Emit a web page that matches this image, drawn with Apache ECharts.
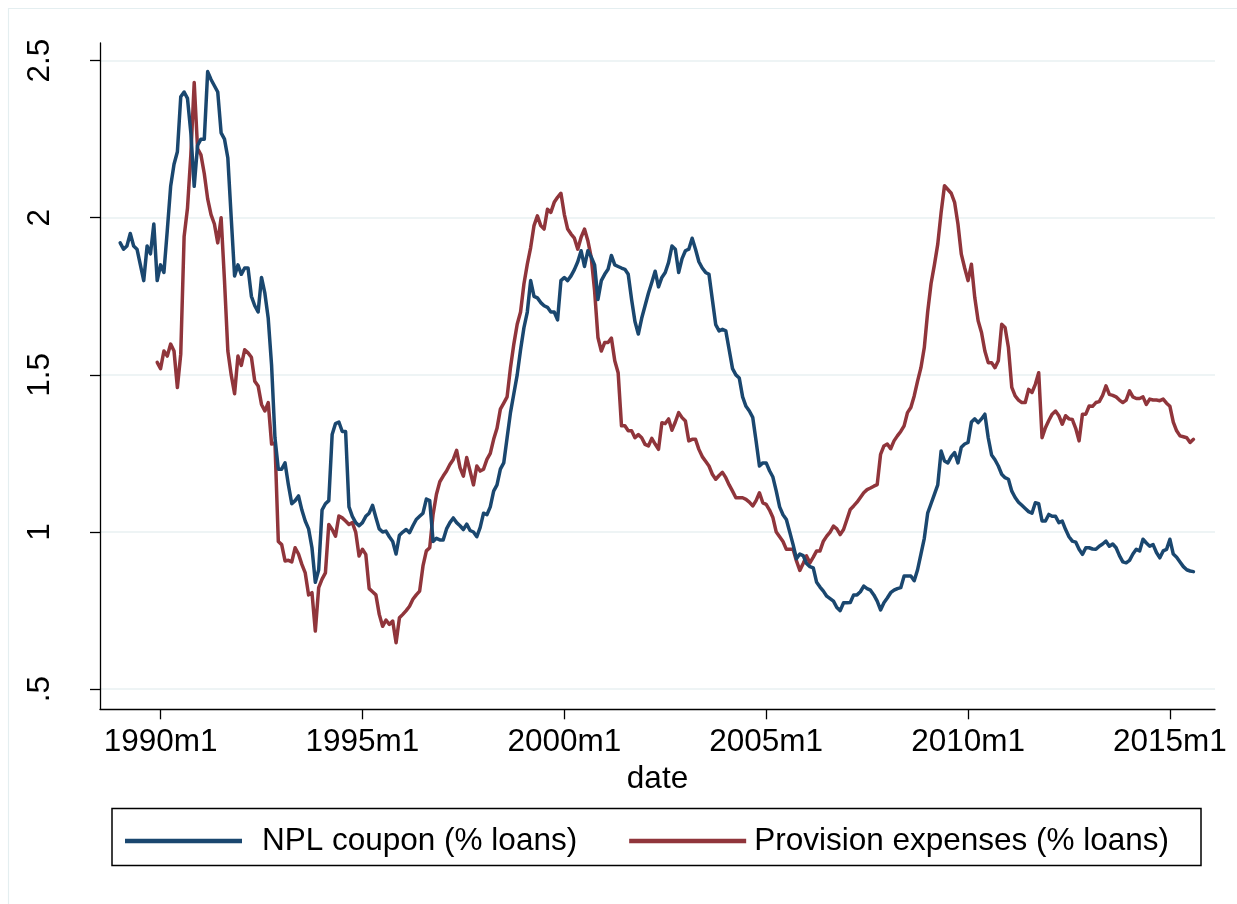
<!DOCTYPE html>
<html>
<head>
<meta charset="utf-8">
<title>NPL coupon and provision expenses</title>
<script src="https://cdn.jsdelivr.net/npm/echarts@6/dist/echarts.min.js"></script>
<style>
  html, body { margin: 0; padding: 0; background: #ffffff; }
  #chart { width: 1237px; height: 904px; }
</style>
</head>
<body>
<div id="chart"></div>
<script>
// Months are counted from 1990m1 (= 0).
const nplStartMonth = -12;       // 1989m1
const provisionStartMonth = -1;  // 1989m12

// NPL coupon (% loans), monthly
const nplCoupon = [
  1.92, 1.90, 1.91, 1.95, 1.91, 1.90, 1.85, 1.80, 1.91, 1.885, 1.98, 1.80,
  1.85, 1.826, 1.96, 2.10, 2.17, 2.21, 2.385, 2.40, 2.38, 2.27, 2.10, 2.23,
  2.25, 2.25, 2.465, 2.44, 2.42, 2.40, 2.27, 2.25, 2.19, 2.00, 1.815, 1.85,
  1.82, 1.84, 1.84, 1.75, 1.72, 1.70, 1.81, 1.76, 1.68, 1.53, 1.30, 1.20,
  1.20, 1.22, 1.15, 1.09, 1.10, 1.115, 1.07, 1.035, 1.01, 0.95, 0.84, 0.88,
  1.07, 1.09, 1.10, 1.31, 1.345, 1.35, 1.32, 1.32, 1.08, 1.05, 1.03, 1.02,
  1.03, 1.05, 1.06, 1.085, 1.046, 1.01, 1.00, 1.003, 0.985, 0.97, 0.93, 0.99,
  1.00, 1.008, 0.998, 1.02, 1.04, 1.05, 1.06, 1.105, 1.10, 0.97, 0.98, 0.975,
  0.975, 1.01, 1.03, 1.045, 1.03, 1.02, 1.008, 1.025, 1.005, 1.00, 0.985, 1.015,
  1.06, 1.055, 1.08, 1.13, 1.15, 1.20, 1.22, 1.30, 1.38, 1.44, 1.50, 1.58,
  1.65, 1.70, 1.80, 1.75, 1.745, 1.73, 1.72, 1.715, 1.70, 1.70, 1.675, 1.80,
  1.81, 1.80, 1.815, 1.835, 1.86, 1.895, 1.845, 1.895, 1.875, 1.85, 1.74, 1.80,
  1.82, 1.836, 1.88, 1.85, 1.845, 1.84, 1.836, 1.82, 1.74, 1.67, 1.63, 1.68,
  1.72, 1.76, 1.794, 1.83, 1.78, 1.81, 1.826, 1.858, 1.91, 1.90, 1.826, 1.87,
  1.895, 1.90, 1.935, 1.90, 1.86, 1.84, 1.826, 1.82, 1.74, 1.66, 1.64, 1.645,
  1.64, 1.58, 1.52, 1.50, 1.49, 1.43, 1.40, 1.385, 1.365, 1.29, 1.21, 1.22,
  1.22, 1.195, 1.175, 1.13, 1.08, 1.055, 1.04, 1.00, 0.96, 0.915, 0.93, 0.925,
  0.90, 0.89, 0.886, 0.84, 0.825, 0.812, 0.796, 0.788, 0.78, 0.76, 0.75, 0.775,
  0.775, 0.776, 0.80, 0.80, 0.81, 0.828, 0.82, 0.815, 0.80, 0.78, 0.752, 0.775,
  0.79, 0.807, 0.815, 0.82, 0.823, 0.86, 0.86, 0.86, 0.845, 0.88, 0.93, 0.98,
  1.06, 1.09, 1.12, 1.15, 1.258, 1.226, 1.22, 1.24, 1.253, 1.22, 1.27, 1.28,
  1.285, 1.35, 1.36, 1.348, 1.36, 1.375, 1.30, 1.245, 1.23, 1.21, 1.184, 1.173,
  1.168, 1.13, 1.11, 1.095, 1.085, 1.075, 1.065, 1.06, 1.093, 1.09, 1.035, 1.035,
  1.056, 1.05, 1.05, 1.03, 1.035, 1.008, 0.985, 0.971, 0.968, 0.945, 0.929, 0.95,
  0.95, 0.946, 0.945, 0.955, 0.962, 0.971, 0.955, 0.962, 0.95, 0.925, 0.905, 0.902,
  0.91, 0.93, 0.945, 0.94, 0.977, 0.965, 0.955, 0.96, 0.935, 0.918, 0.94, 0.945,
  0.977, 0.93, 0.92, 0.905, 0.89, 0.88, 0.876, 0.874
];

// Provision expenses (% loans), monthly
const provisionExpenses = [
  1.54, 1.52, 1.576, 1.56, 1.598, 1.576, 1.46, 1.566, 1.94, 2.03, 2.20, 2.43,
  2.22, 2.20, 2.14, 2.06, 2.01, 1.98, 1.92, 2.00, 1.80, 1.576, 1.50, 1.44,
  1.56, 1.53, 1.58, 1.57, 1.556, 1.48, 1.465, 1.406, 1.385, 1.412, 1.28, 1.284,
  0.97, 0.96, 0.908, 0.91, 0.905, 0.95, 0.93, 0.897, 0.87, 0.80, 0.807, 0.685,
  0.823, 0.85, 0.87, 1.024, 1.008, 0.987, 1.051, 1.045, 1.035, 1.024, 1.03, 1.00,
  0.924, 0.945, 0.929, 0.82, 0.81, 0.80, 0.738, 0.70, 0.72, 0.706, 0.717, 0.648,
  0.727, 0.738, 0.75, 0.764, 0.786, 0.80, 0.812, 0.892, 0.94, 0.95, 1.056, 1.12,
  1.16, 1.178, 1.194, 1.215, 1.231, 1.26, 1.205, 1.178, 1.237, 1.194, 1.15, 1.21,
  1.194, 1.20, 1.231, 1.25, 1.295, 1.33, 1.391, 1.41, 1.43, 1.523, 1.598, 1.661,
  1.70, 1.789, 1.852, 1.905, 1.975, 2.006, 1.975, 1.964, 2.027, 2.017, 2.049, 2.065,
  2.078, 2.011, 1.964, 1.948, 1.935, 1.90, 1.938, 1.964, 1.927, 1.874, 1.768, 1.619,
  1.576, 1.603, 1.603, 1.617, 1.545, 1.507, 1.338, 1.338, 1.322, 1.322, 1.30, 1.31,
  1.30, 1.279, 1.274, 1.298, 1.28, 1.263, 1.348, 1.345, 1.36, 1.324, 1.35, 1.38,
  1.364, 1.353, 1.29, 1.295, 1.295, 1.263, 1.24, 1.225, 1.21, 1.184, 1.168, 1.18,
  1.19, 1.173, 1.15, 1.13, 1.109, 1.109, 1.109, 1.104, 1.095, 1.083, 1.10, 1.125,
  1.093, 1.088, 1.07, 1.046, 1.00, 0.985, 0.97, 0.945, 0.945, 0.945, 0.908, 0.878,
  0.90, 0.924, 0.902, 0.92, 0.94, 0.94, 0.971, 0.987, 1.00, 1.019, 1.01, 0.992,
  1.008, 1.04, 1.072, 1.083, 1.095, 1.11, 1.125, 1.135, 1.14, 1.146, 1.151, 1.247,
  1.274, 1.28, 1.265, 1.29, 1.306, 1.32, 1.338, 1.38, 1.396, 1.433, 1.48, 1.523,
  1.587, 1.70, 1.79, 1.85, 1.916, 2.017, 2.102, 2.09, 2.078, 2.049, 1.98, 1.884,
  1.84, 1.80, 1.852, 1.746, 1.672, 1.635, 1.576, 1.539, 1.539, 1.523, 1.545, 1.661,
  1.651, 1.587, 1.46, 1.433, 1.42, 1.412, 1.412, 1.454, 1.444, 1.47, 1.507, 1.30,
  1.332, 1.355, 1.375, 1.385, 1.37, 1.343, 1.37, 1.36, 1.358, 1.33, 1.29, 1.375,
  1.375, 1.401, 1.40, 1.412, 1.415, 1.435, 1.465, 1.438, 1.435, 1.43, 1.42, 1.412,
  1.42, 1.449, 1.43, 1.425, 1.425, 1.43, 1.406, 1.423, 1.42, 1.42, 1.418, 1.423,
  1.41, 1.40, 1.35, 1.322, 1.306, 1.303, 1.30, 1.285, 1.295
];

// Axis ticks
const xTickMonths = [0, 60, 120, 180, 240, 300];
const xTickLabels = ['1990m1', '1995m1', '2000m1', '2005m1', '2010m1', '2015m1'];
const yTickValues = [0.5, 1, 1.5, 2, 2.5];
const yTickLabels = ['.5', '1', '1.5', '2', '2.5'];

const seriesNames = ['NPL coupon (% loans)', 'Provision expenses (% loans)'];

const FONT = '"Liberation Sans", Arial, Helvetica, sans-serif';
const BLUE = '#1a476f';
const RED = '#90353b';

function toPairs(values, start) {
  return values.map((v, i) => [start + i, v]);
}

const chart = echarts.init(document.getElementById('chart'), null, { renderer: 'canvas' });

chart.setOption({
  animation: false,
  backgroundColor: '#ffffff',
  textStyle: { fontFamily: FONT, color: '#000' },
  grid: { left: 100, right: 22, top: 43, bottom: 194.7, containLabel: false },
  xAxis: {
    type: 'value',
    min: -18,
    max: 313.4,
    name: 'date',
    nameLocation: 'middle',
    nameGap: 50,
    nameTextStyle: { fontFamily: FONT, fontSize: 31.5, color: '#000' },
    axisLine: { show: true, onZero: false, lineStyle: { color: '#000', width: 1.3 } },
    axisTick: { show: true, length: 10, customValues: xTickMonths, lineStyle: { color: '#000', width: 1.3 } },
    axisLabel: {
      customValues: xTickMonths,
      margin: 17,
      fontFamily: FONT,
      fontSize: 31.5,
      color: '#000',
      formatter: v => xTickLabels[xTickMonths.indexOf(v)] || ''
    },
    splitLine: { show: false }
  },
  yAxis: {
    type: 'value',
    min: 0.436,
    max: 2.556,
    axisLine: { show: true, onZero: false, lineStyle: { color: '#000', width: 1.3 } },
    axisTick: { show: true, length: 10, customValues: yTickValues, lineStyle: { color: '#000', width: 1.3 } },
    axisLabel: {
      customValues: yTickValues,
      rotate: 90,
      margin: 44,
      fontFamily: FONT,
      fontSize: 31.5,
      color: '#000',
      formatter: v => yTickLabels[yTickValues.indexOf(v)] || ''
    },
    splitLine: { show: true, lineStyle: { color: '#e8f0f2', width: 1.5 } }
  },
  legend: {
    show: true,
    left: 125,
    top: 825,
    padding: 0,
    icon: 'rect',
    itemWidth: 117,
    itemHeight: 4.5,
    itemGap: 52,
    textStyle: { fontFamily: FONT, fontSize: 31.5, color: '#000' },
    data: [
      { name: seriesNames[0], textStyle: { padding: [0, 0, 0, 15] } },
      { name: seriesNames[1], textStyle: { padding: [0, 0, 0, 3] } }
    ]
  },
  graphic: [
    {
      type: 'rect',
      silent: true,
      shape: { x: 8.5, y: 8.5, width: 1400, height: 1000 },
      style: { fill: 'none', stroke: '#e4eef0', lineWidth: 1.2 }
    },
    {
      type: 'rect',
      silent: true,
      shape: { x: 112, y: 808.5, width: 1089, height: 57 },
      style: { fill: 'none', stroke: '#000', lineWidth: 1.5 }
    }
  ],
  series: [
    {
      name: seriesNames[0],
      type: 'line',
      data: toPairs(nplCoupon, nplStartMonth),
      showSymbol: false,
      symbol: 'none',
      color: BLUE,
      lineStyle: { color: BLUE, width: 3.5, join: 'round', cap: 'round' },
      itemStyle: { color: BLUE },
      z: 3
    },
    {
      name: seriesNames[1],
      type: 'line',
      data: toPairs(provisionExpenses, provisionStartMonth),
      showSymbol: false,
      symbol: 'none',
      color: RED,
      lineStyle: { color: RED, width: 3.5, join: 'round', cap: 'round' },
      itemStyle: { color: RED },
      z: 2
    }
  ]
});
</script>
</body>
</html>
